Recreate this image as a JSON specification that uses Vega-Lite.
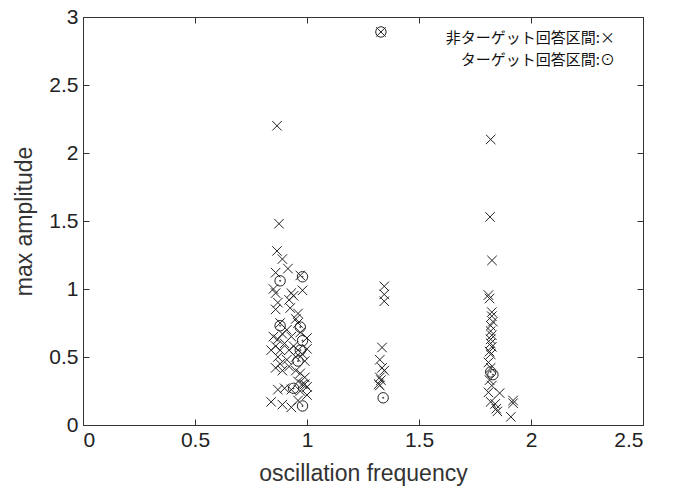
{
  "$schema": "https://vega.github.io/schema/vega-lite/v6.json",
  "width": 560,
  "height": 408,
  "autosize": "none",
  "padding": {"left": 83, "top": 17, "right": 30, "bottom": 66},
  "background": "white",
  "config": {
    "view": {"stroke": "#333", "strokeWidth": 1},
    "axis": {"grid": false, "domain": false, "tickColor": "#333", "tickSize": -6, "labelFont": "Liberation Sans", "labelFontSize": 21, "labelColor": "#222", "titleFont": "Liberation Sans", "titleFontSize": 23, "titleFontWeight": "normal", "titleColor": "#333"}
  },
  "data": {"values": [
    {"f":0.866,"a":2.20,"type":"non"},{"f":0.875,"a":1.48,"type":"non"},{"f":0.866,"a":1.28,"type":"non"},{"f":0.89,"a":1.22,"type":"non"},
    {"f":0.86,"a":1.12,"type":"non"},{"f":0.915,"a":1.15,"type":"non"},{"f":0.97,"a":1.10,"type":"non"},{"f":0.85,"a":1.00,"type":"non"},
    {"f":0.86,"a":0.97,"type":"non"},{"f":0.93,"a":0.97,"type":"non"},{"f":0.98,"a":0.99,"type":"non"},{"f":0.87,"a":0.90,"type":"non"},
    {"f":0.92,"a":0.92,"type":"non"},{"f":0.94,"a":0.95,"type":"non"},{"f":0.86,"a":0.85,"type":"non"},{"f":0.925,"a":0.86,"type":"non"},
    {"f":0.96,"a":0.82,"type":"non"},{"f":0.95,"a":0.78,"type":"non"},{"f":0.88,"a":0.75,"type":"non"},{"f":0.96,"a":0.75,"type":"non"},
    {"f":0.91,"a":0.70,"type":"non"},{"f":0.85,"a":0.65,"type":"non"},{"f":0.87,"a":0.63,"type":"non"},{"f":0.89,"a":0.67,"type":"non"},
    {"f":0.93,"a":0.65,"type":"non"},{"f":0.97,"a":0.68,"type":"non"},{"f":1.0,"a":0.64,"type":"non"},{"f":0.86,"a":0.58,"type":"non"},
    {"f":0.88,"a":0.55,"type":"non"},{"f":0.84,"a":0.55,"type":"non"},{"f":0.90,"a":0.60,"type":"non"},{"f":0.94,"a":0.58,"type":"non"},
    {"f":0.96,"a":0.55,"type":"non"},{"f":0.98,"a":0.52,"type":"non"},{"f":1.0,"a":0.56,"type":"non"},{"f":0.87,"a":0.50,"type":"non"},
    {"f":0.91,"a":0.48,"type":"non"},{"f":0.95,"a":0.50,"type":"non"},{"f":0.99,"a":0.47,"type":"non"},{"f":0.86,"a":0.42,"type":"non"},
    {"f":0.89,"a":0.40,"type":"non"},{"f":0.92,"a":0.43,"type":"non"},{"f":0.97,"a":0.38,"type":"non"},{"f":0.99,"a":0.35,"type":"non"},
    {"f":0.96,"a":0.32,"type":"non"},{"f":0.98,"a":0.30,"type":"non"},{"f":1.0,"a":0.28,"type":"non"},{"f":0.97,"a":0.25,"type":"non"},
    {"f":1.0,"a":0.22,"type":"non"},{"f":0.90,"a":0.27,"type":"non"},{"f":0.93,"a":0.26,"type":"non"},{"f":0.87,"a":0.26,"type":"non"},
    {"f":0.84,"a":0.17,"type":"non"},{"f":0.89,"a":0.15,"type":"non"},{"f":0.93,"a":0.13,"type":"non"},{"f":0.96,"a":0.18,"type":"non"},
    {"f":0.99,"a":0.30,"type":"non"},{"f":0.95,"a":0.40,"type":"non"},{"f":0.88,"a":0.45,"type":"non"},{"f":0.92,"a":0.55,"type":"non"},
    {"f":0.98,"a":1.09,"type":"target"},{"f":0.88,"a":1.06,"type":"target"},{"f":0.88,"a":0.73,"type":"target"},{"f":0.97,"a":0.72,"type":"target"},
    {"f":0.98,"a":0.62,"type":"target"},{"f":0.97,"a":0.55,"type":"target"},{"f":0.94,"a":0.27,"type":"target"},{"f":0.98,"a":0.14,"type":"target"},
    {"f":0.96,"a":0.47,"type":"target"},
    {"f":1.33,"a":2.89,"type":"non"},{"f":1.345,"a":1.02,"type":"non"},{"f":1.345,"a":0.96,"type":"non"},{"f":1.345,"a":0.91,"type":"non"},
    {"f":1.335,"a":0.57,"type":"non"},{"f":1.325,"a":0.48,"type":"non"},{"f":1.335,"a":0.42,"type":"non"},{"f":1.345,"a":0.40,"type":"non"},
    {"f":1.325,"a":0.35,"type":"non"},{"f":1.33,"a":0.33,"type":"non"},{"f":1.32,"a":0.30,"type":"non"},{"f":1.325,"a":0.29,"type":"non"},
    {"f":1.33,"a":2.89,"type":"target"},{"f":1.34,"a":0.20,"type":"target"},
    {"f":1.82,"a":2.10,"type":"non"},{"f":1.817,"a":1.53,"type":"non"},{"f":1.826,"a":1.21,"type":"non"},{"f":1.81,"a":0.955,"type":"non"},
    {"f":1.815,"a":0.93,"type":"non"},{"f":1.825,"a":0.83,"type":"non"},{"f":1.825,"a":0.80,"type":"non"},{"f":1.83,"a":0.76,"type":"non"},
    {"f":1.82,"a":0.73,"type":"non"},{"f":1.82,"a":0.69,"type":"non"},{"f":1.825,"a":0.66,"type":"non"},{"f":1.82,"a":0.63,"type":"non"},
    {"f":1.82,"a":0.60,"type":"non"},{"f":1.825,"a":0.575,"type":"non"},{"f":1.815,"a":0.54,"type":"non"},{"f":1.82,"a":0.52,"type":"non"},
    {"f":1.81,"a":0.46,"type":"non"},{"f":1.82,"a":0.42,"type":"non"},{"f":1.815,"a":0.33,"type":"non"},{"f":1.825,"a":0.29,"type":"non"},
    {"f":1.81,"a":0.24,"type":"non"},{"f":1.86,"a":0.235,"type":"non"},{"f":1.82,"a":0.17,"type":"non"},{"f":1.84,"a":0.155,"type":"non"},
    {"f":1.845,"a":0.12,"type":"non"},{"f":1.85,"a":0.10,"type":"non"},{"f":1.92,"a":0.18,"type":"non"},{"f":1.92,"a":0.16,"type":"non"},
    {"f":1.91,"a":0.06,"type":"non"},
    {"f":1.82,"a":0.39,"type":"target"},{"f":1.83,"a":0.37,"type":"target"}
  ]},
  "layer": [
    {
      "mark": {"type": "point", "filled": false, "stroke": "#222", "strokeWidth": 1, "size": 90, "opacity": 1},
      "encoding": {
        "x": {"field": "f", "type": "quantitative", "title": "oscillation frequency",
              "scale": {"domain": [0, 2.5], "nice": false, "zero": false},
              "axis": {"values": [0, 0.5, 1, 1.5, 2, 2.5], "format": "~g", "labelPadding": 10, "titlePadding": 12}},
        "y": {"field": "a", "type": "quantitative", "title": "max amplitude",
              "scale": {"domain": [0, 3], "nice": false, "zero": false},
              "axis": {"values": [0, 0.5, 1, 1.5, 2, 2.5, 3], "format": "~g", "labelPadding": 11, "titlePadding": 12}},
        "shape": {"field": "type", "type": "nominal",
                  "scale": {"domain": ["non", "target"], "range": ["M-1,-1L1,1M-1,1L1,-1", "M-1.1,0A1.1,1.1 0 1,0 1.1,0A1.1,1.1 0 1,0 -1.1,0M-0.12,0A0.12,0.12 0 1,0 0.12,0A0.12,0.12 0 1,0 -0.12,0"]},
                  "legend": {"orient": "top-right", "offset": 13, "padding": 0, "title": null,
                             "labelExpr": "datum.value == 'non' ? '非ターゲット回答区間:×' : 'ターゲット回答区間:⊙'",
                             "labelFont": "Noto Sans CJK JP", "labelFontSize": 15, "labelColor": "#111", "labelLimit": 400,
                             "labelAlign": "right", "symbolOpacity": 0, "symbolSize": 0, "symbolStrokeWidth": 0,
                             "rowPadding": 6, "labelOffset": -22}}
      }
    },
    {
      "mark": {"type": "point", "opacity": 0},
      "encoding": {
        "x": {"field": "f", "type": "quantitative", "axis": {"orient": "top", "values": [0, 0.5, 1, 1.5, 2, 2.5], "labels": false, "title": null}},
        "y": {"field": "a", "type": "quantitative", "axis": {"orient": "right", "values": [0, 0.5, 1, 1.5, 2, 2.5, 3], "labels": false, "title": null}}
      }
    }
  ],
  "resolve": {"axis": {"x": "independent", "y": "independent"}}
}
